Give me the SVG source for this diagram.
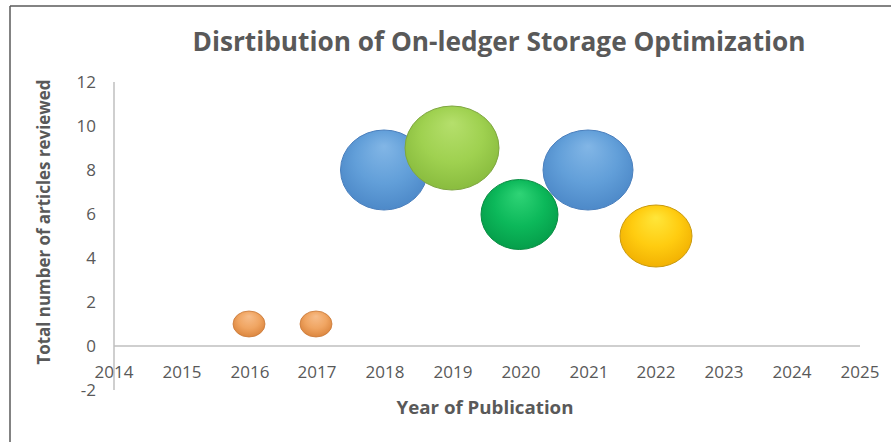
<svg xmlns="http://www.w3.org/2000/svg" width="891" height="442" viewBox="0 0 891 442">
<style>
  .tick { font-family: "Open Sans", "Liberation Sans", sans-serif; font-size: 17px; fill: #595959; }
  .ytick { text-anchor: end; }
  .xtick { text-anchor: middle; }
  .title { font-family: "Open Sans", "Liberation Sans", sans-serif; font-weight: bold; fill: #595959; }
  .axis { stroke: #bfbfbf; stroke-width: 1.5; fill: none; }
</style>
<defs>
  <radialGradient id="gOrange" cx="0.5" cy="0.45" r="0.6" fx="0.5" fy="0.2">
    <stop offset="0" stop-color="#f7bd8a"/>
    <stop offset="0.55" stop-color="#f0a562"/>
    <stop offset="1" stop-color="#d9823a"/>
  </radialGradient>
  <radialGradient id="gBlue" cx="0.5" cy="0.45" r="0.6" fx="0.5" fy="0.2">
    <stop offset="0" stop-color="#82b6e6"/>
    <stop offset="0.55" stop-color="#629fd9"/>
    <stop offset="1" stop-color="#4a86c6"/>
  </radialGradient>
  <radialGradient id="gLGreen" cx="0.5" cy="0.45" r="0.6" fx="0.5" fy="0.2">
    <stop offset="0" stop-color="#b5df6c"/>
    <stop offset="0.55" stop-color="#9fd150"/>
    <stop offset="1" stop-color="#86b93c"/>
  </radialGradient>
  <radialGradient id="gDGreen" cx="0.5" cy="0.45" r="0.6" fx="0.5" fy="0.2">
    <stop offset="0" stop-color="#2fd476"/>
    <stop offset="0.55" stop-color="#0cb85a"/>
    <stop offset="1" stop-color="#049a48"/>
  </radialGradient>
  <radialGradient id="gYellow" cx="0.5" cy="0.45" r="0.6" fx="0.5" fy="0.2">
    <stop offset="0" stop-color="#ffe63a"/>
    <stop offset="0.55" stop-color="#ffcc10"/>
    <stop offset="1" stop-color="#f0ad00"/>
  </radialGradient>
</defs>

<rect x="0" y="0" width="891" height="442" fill="#ffffff"/>
<g id="frame">
  <line x1="10" y1="6" x2="891" y2="6" stroke="#5a5a5a" stroke-width="1.5"/>
  <line x1="10" y1="6" x2="10" y2="442" stroke="#5a5a5a" stroke-width="1.5"/>
</g>

<g id="title">
  <text class="title" x="499" y="51" font-size="26" text-anchor="middle" textLength="613" lengthAdjust="spacingAndGlyphs">Disrtibution of On-ledger Storage Optimization</text>
</g>

<g id="axes">
  <line class="axis" x1="114" y1="82" x2="114" y2="390"/>
  <line class="axis" x1="114" y1="346" x2="860" y2="346"/>
</g>

<g id="y-ticks">
  <text class="tick ytick" x="96" y="88">12</text>
  <text class="tick ytick" x="96" y="132">10</text>
  <text class="tick ytick" x="96" y="176">8</text>
  <text class="tick ytick" x="96" y="220">6</text>
  <text class="tick ytick" x="96" y="264">4</text>
  <text class="tick ytick" x="96" y="308">2</text>
  <text class="tick ytick" x="96" y="352">0</text>
  <text class="tick ytick" x="96" y="396">-2</text>
</g>

<g id="x-ticks">
  <text class="tick xtick" x="114" y="378">2014</text>
  <text class="tick xtick" x="182" y="378">2015</text>
  <text class="tick xtick" x="250" y="378">2016</text>
  <text class="tick xtick" x="317" y="378">2017</text>
  <text class="tick xtick" x="385" y="378">2018</text>
  <text class="tick xtick" x="453" y="378">2019</text>
  <text class="tick xtick" x="521" y="378">2020</text>
  <text class="tick xtick" x="589" y="378">2021</text>
  <text class="tick xtick" x="656" y="378">2022</text>
  <text class="tick xtick" x="724" y="378">2023</text>
  <text class="tick xtick" x="792" y="378">2024</text>
  <text class="tick xtick" x="860" y="378">2025</text>
</g>

<g id="axis-titles">
  <text class="title" x="485" y="414" font-size="17" text-anchor="middle" textLength="177" lengthAdjust="spacingAndGlyphs">Year of Publication</text>
  <text class="title" transform="translate(50,222) rotate(-90)" x="0" y="0" font-size="17" text-anchor="middle" textLength="285" lengthAdjust="spacingAndGlyphs">Total number of articles reviewed</text>
</g>

<g id="bubbles">
  <g id="b2016"><ellipse cx="249" cy="324" rx="16" ry="13" fill="url(#gOrange)" stroke="#c97a3a" stroke-width="0.8"/></g>
  <g id="b2017"><ellipse cx="316" cy="324" rx="16" ry="13" fill="url(#gOrange)" stroke="#c97a3a" stroke-width="0.8"/></g>
  <g id="b2018"><ellipse cx="384" cy="170" rx="43.5" ry="40" fill="url(#gBlue)" stroke="#4a7fbd" stroke-width="1"/></g>
  <g id="b2021"><ellipse cx="588" cy="170" rx="45" ry="40" fill="url(#gBlue)" stroke="#4a7fbd" stroke-width="1"/></g>
  <g id="b2019"><ellipse cx="452" cy="148" rx="47" ry="42" fill="url(#gLGreen)" stroke="#7ea640" stroke-width="1"/></g>
  <g id="b2020"><ellipse cx="519.5" cy="214.5" rx="38.5" ry="35" fill="url(#gDGreen)" stroke="#088c42" stroke-width="1"/></g>
  <g id="b2022"><ellipse cx="656" cy="236" rx="36" ry="31" fill="url(#gYellow)" stroke="#c99a10" stroke-width="1"/></g>
</g>
</svg>
